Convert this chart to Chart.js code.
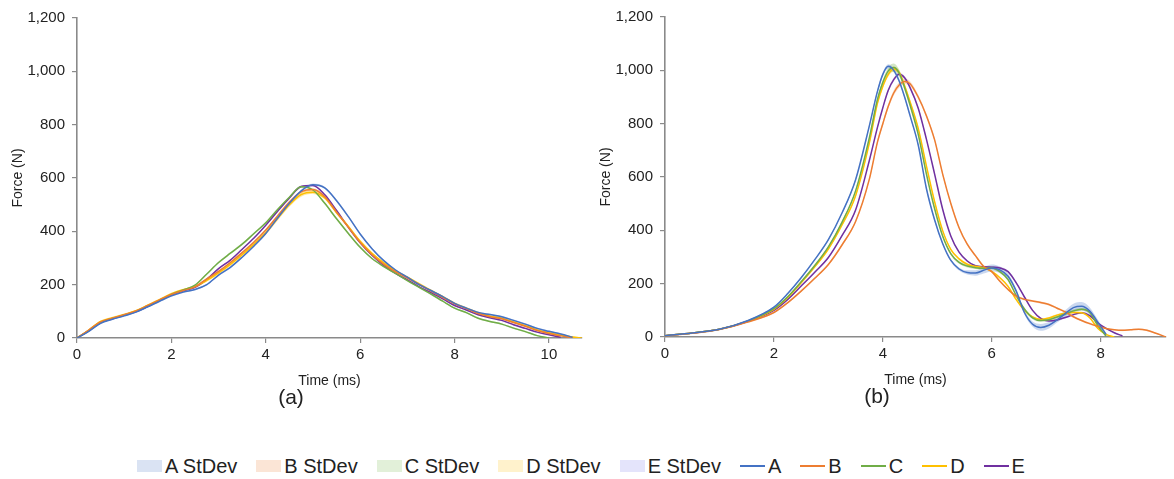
<!DOCTYPE html>
<html>
<head>
<meta charset="utf-8">
<script src="https://cdn.jsdelivr.net/npm/chart.js@4.4.0/dist/chart.umd.min.js"></script>
<style>
  body { margin: 0; background: #fff; width: 1174px; height: 479px; overflow: hidden; position: relative;
         font-family: "Liberation Sans", Arial, sans-serif; }
  #ca { position: absolute; left: 0; top: 0; }
  #cb { position: absolute; left: 588px; top: -1px; }
  #legend { position: absolute; left: -6px; top: 454px; width: 1174px; display: flex; justify-content: center;
            font-size: 20px; line-height: 24px; color: #222; }
  .item { display: flex; align-items: center; margin: 0 9.5px; }
  .box { width: 25px; height: 12px; margin-right: 3px; }
  .ln { width: 25px; height: 2px; margin-right: 3px; }
</style>
</head>
<body>
<canvas id="ca" width="588" height="420"></canvas>
<canvas id="cb" width="586" height="420"></canvas>
<div id="legend"></div>
<script>
// series names and colours
const names = ["A", "B", "C", "D", "E"];
const lineColors = ["#4472c4", "#ed7d31", "#70ad47", "#ffc000", "#7030a0"];
const bandColors = ["rgba(68,114,196,0.28)", "rgba(237,125,49,0.25)", "rgba(112,173,71,0.3)", "rgba(255,192,0,0.35)", "rgba(112,48,160,0.2)"];
const legendBoxColors = ["#dae3f3", "#fbe5d6", "#e2f0d9", "#fff2cc", "#e4e4fb"];

// ---- panel (a) ----
const timeLeft = [0,0.25,0.5,0.75,1,1.25,1.5,1.75,2,2.25,2.5,2.75,3,3.25,3.5,3.75,4,4.25,4.5,4.75,5,5.25,5.5,5.75,6,6.25,6.5,6.75,7,7.25,7.5,7.75,8,8.25,8.5,8.75,9,9.25,9.5,9.75,10,10.25,10.5,10.7];
const leftA = [0,25,55,70,83,97,117,138,158,172,182,200,236,265,303,345,392,450,505,552,575,563,515,455,390,335,290,255,228,200,178,155,130,112,96,88,80,66,52,36,25,15,3,null];
const leftB = [0,30,60,74,87,101,122,143,163,178,192,222,250,283,320,360,405,458,510,548,557,530,472,415,358,312,276,248,225,200,176,152,128,110,92,80,72,58,44,28,17,8,0,null];
const leftC = [0,27,58,73,86,100,120,141,163,180,198,240,283,318,352,392,432,482,528,567,555,505,447,392,340,298,268,242,215,190,165,138,112,95,74,62,52,37,24,9,0,null,null,null];
const leftD = [0,30,62,76,88,102,123,144,166,181,193,216,244,276,312,352,395,448,500,538,547,525,470,418,363,318,282,252,228,203,178,155,130,112,94,82,74,60,46,30,20,11,4,0];
const leftE = [0,28,58,72,85,99,119,141,161,177,190,220,260,292,333,375,423,475,525,568,572,537,478,415,357,310,272,242,218,192,170,147,122,105,87,76,66,50,36,22,12,3,null,null];
const leftSdA = [0,2,2,2,2,2,3,3,3,3,3,3,3,3,3,4,4,4,4,4,4,4,4,4,4,3,3,3,3,3,3,3,3,3,3,3,3,3,3,3,3,2,2,0];
const leftSdB = [0,3,3,3,3,3,3,3,3,3,3,4,4,4,5,5,5,5,5,5,5,5,5,4,4,4,3,3,3,3,3,3,3,3,3,3,3,3,3,3,3,2,0,0];
const leftSdC = [0,3,3,3,3,3,3,3,3,3,3,3,4,4,4,4,4,4,4,4,4,4,4,4,4,3,3,3,3,3,3,3,3,3,3,3,3,3,3,2,0,0,0,0];
const leftSdD = [0,4,4,4,4,4,4,4,4,4,4,5,6,6,7,7,8,8,8,8,7,6,6,5,5,4,4,4,4,4,4,4,4,4,4,4,4,4,4,4,3,3,2,0];
const leftSdE = [0,2,2,2,2,2,2,2,3,3,3,3,3,3,3,3,3,4,4,4,4,4,4,3,3,3,3,3,3,3,3,3,3,3,3,3,3,3,3,2,2,1,0,0];

// ---- panel (b) ----
const timeRight = [0,0.5,1,1.5,2,2.25,2.5,2.75,3,3.25,3.5,3.75,3.9,4,4.1,4.2,4.3,4.4,4.5,4.65,4.8,4.95,5.1,5.25,5.4,5.55,5.7,5.85,6,6.15,6.3,6.45,6.6,6.75,6.9,7.05,7.2,7.35,7.5,7.65,7.8,7.95,8.1,8.25,8.4,8.55,8.7,8.85,9,9.2];
const rightA = [5,15,29,60,112,162,222,290,365,465,590,790,920,985,1015,1000,960,900,830,720,557,440,350,287,255,242,240,250,259,252,228,172,92,48,36,44,64,88,110,115,97,55,10,null,null,null,null,null,null,null];
const rightB = [5,14,28,55,92,128,172,220,272,345,433,590,730,800,865,915,945,958,950,900,830,740,610,500,410,348,305,265,245,209,178,153,141,135,129,122,108,94,76,62,50,40,32,27,25,27,29,25,15,0];
const rightC = [5,15,29,58,106,150,207,268,338,430,548,745,890,955,998,1011,990,935,870,760,612,482,378,312,280,266,260,258,259,245,215,155,105,72,62,65,75,86,98,104,92,42,3,null,null,null,null,null,null,null];
const rightD = [5,15,29,58,104,147,203,263,330,420,530,725,875,940,985,1005,992,942,882,782,642,508,398,328,293,273,265,260,246,222,190,140,100,75,66,71,82,89,92,91,72,32,10,0,null,null,null,null,null,null];
const rightE = [5,15,29,57,100,140,191,243,298,380,476,660,785,860,925,965,985,972,935,858,742,612,478,378,318,285,267,263,262,259,245,203,150,100,70,60,64,73,84,91,80,52,32,16,4,null,null,null,null,null];
const rightSdA = [0,1,1,2,3,3,3,3,4,4,5,6,7,8,8,8,7,7,6,6,6,6,5,5,6,8,10,12,13,12,10,8,8,10,13,12,10,12,15,16,14,10,5,0,0,0,0,0,0,0];
const rightSdB = [0,1,1,2,3,3,3,4,4,5,5,6,7,8,9,10,10,10,9,8,7,6,6,5,5,5,4,4,4,4,4,4,4,4,4,4,4,4,4,4,4,3,3,3,3,3,3,3,2,0];
const rightSdC = [0,1,1,2,3,3,3,4,4,5,5,6,8,10,14,15,13,10,8,6,6,5,5,5,5,5,5,5,6,6,5,5,5,5,5,5,5,6,6,6,5,4,2,0,0,0,0,0,0,0];
const rightSdD = [0,1,1,2,3,3,3,3,4,4,5,6,7,8,9,9,8,7,6,6,5,5,5,4,4,4,4,4,4,4,4,4,4,4,4,4,4,4,4,4,4,3,2,0,0,0,0,0,0,0];
const rightSdE = [0,1,1,2,2,3,3,3,4,4,4,5,6,6,7,7,7,7,6,6,5,5,5,4,4,4,4,4,4,4,4,4,4,4,4,4,4,4,4,4,4,3,3,2,1,0,0,0,0,0];

Chart.defaults.font.family = '"Liberation Sans", Arial, sans-serif';
Chart.defaults.color = "#222";

function points(time, vals, sd, sign) {
  const out = [];
  time.forEach((t, i) => {
    if (vals[i] == null) return;
    const off = sd ? sign * sd[i] : 0;
    out.push({ x: t, y: Math.max(0, vals[i] + off) });
  });
  return out;
}

function makeChart(id, time, series, sds, xMax, label, padRight) {
  const datasets = [];
  series.forEach((vals, i) => {
    datasets.push({
      label: names[i] + " StDev up",
      data: points(time, vals, sds[i], 1),
      borderWidth: 0, pointRadius: 0, fill: false, order: 1,
      cubicInterpolationMode: "monotone",
    });
    datasets.push({
      label: names[i] + " StDev",
      data: points(time, vals, sds[i], -1),
      borderWidth: 0, pointRadius: 0, fill: "-1", order: 1,
      backgroundColor: bandColors[i],
      cubicInterpolationMode: "monotone",
    });
  });
  series.forEach((vals, i) => {
    datasets.push({
      label: names[i],
      data: points(time, vals),
      borderColor: lineColors[i],
      borderWidth: 1.5,
      pointRadius: 0,
      fill: false,
      order: 0,
      cubicInterpolationMode: "monotone",
    });
  });
  return new Chart(document.getElementById(id), {
    type: "line",
    data: { datasets: datasets },
    options: {
      responsive: false,
      animation: false,
      devicePixelRatio: 1,
      layout: { padding: { top: 18, right: padRight, left: 0, bottom: 0 } },
      plugins: {
        legend: { display: false },
        tooltip: { enabled: false },
        title: {
          display: true,
          text: label,
          position: "bottom",
          color: "#222",
          font: { size: 21, weight: "normal", lineHeight: 0.8 },
          padding: { top: 0, bottom: 13.4 },
        },
      },
      scales: {
        x: {
          type: "linear",
          min: 0,
          max: xMax,
          ticks: { stepSize: 2, includeBounds: false, maxRotation: 0, padding: 3, color: "#222", font: { size: 15 } },
          grid: { drawOnChartArea: false, color: "#8a8a8a", tickLength: 5, lineWidth: 1.2 },
          border: { display: true, color: "#8a8a8a", width: 1.6 },
          title: { display: true, text: "Time (ms)", color: "#222", font: { size: 14 }, padding: { top: 6, bottom: 0 } },
        },
        y: {
          min: 0,
          max: 1200,
          afterFit: (s) => { s.width = 77; },
          ticks: { stepSize: 200, padding: 7, color: "#222", font: { size: 15 },
                   callback: (v) => v.toLocaleString("en-US") },
          grid: { drawOnChartArea: false, color: "#8a8a8a", tickLength: 5, lineWidth: 1.2 },
          border: { display: true, color: "#8a8a8a", width: 1.6 },
          title: { display: true, text: "Force (N)", color: "#222", font: { size: 14 }, padding: { top: 10, bottom: 0 } },
        },
      },
    },
  });
}

makeChart("ca", timeLeft, [leftA, leftB, leftC, leftD, leftE],
  [leftSdA, leftSdB, leftSdC, leftSdD, leftSdE], 10.7, "(a)", 6);
makeChart("cb", timeRight, [rightA, rightB, rightC, rightD, rightE],
  [rightSdA, rightSdB, rightSdC, rightSdD, rightSdE], 9.2, "(b)", 8);

// shared legend under both panels
const legend = document.getElementById("legend");
names.forEach((n, i) => {
  legend.insertAdjacentHTML("beforeend",
    '<div class="item"><span class="box" style="background:' + legendBoxColors[i] + '"></span>' + n + ' StDev</div>');
});
names.forEach((n, i) => {
  legend.insertAdjacentHTML("beforeend",
    '<div class="item"><span class="ln" style="background:' + lineColors[i] + '"></span>' + n + '</div>');
});
</script>
</body>
</html>
